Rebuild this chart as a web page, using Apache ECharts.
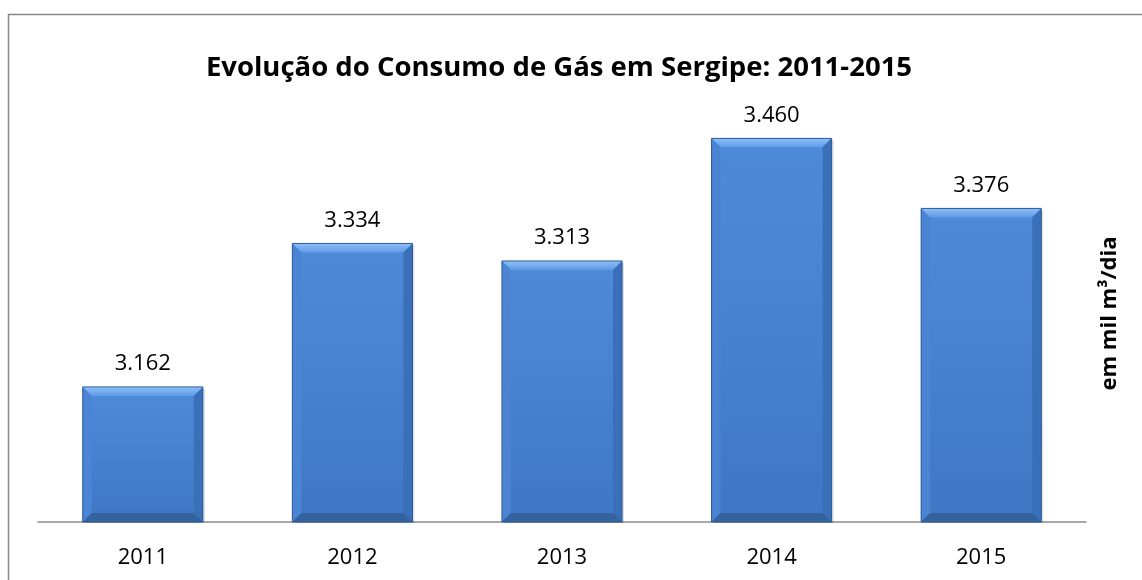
<!DOCTYPE html>
<html>
<head>
<meta charset="utf-8">
<script src="https://cdn.jsdelivr.net/npm/echarts@6/dist/echarts.min.js"></script>
<style>
  html, body { margin: 0; padding: 0; background: #fff; }
  #chart { width: 1142px; height: 580px; }
</style>
</head>
<body>
<div id="chart"></div>
<script>
// dados do gráfico
const anos = ['2011', '2012', '2013', '2014', '2015']
const consumo = [3.162, 3.334, 3.313, 3.460, 3.376]
const eixoMin = 3.0
const eixoMax = 3.5

const fonte = 'Open Sans'
const chart = echarts.init(document.getElementById('chart'))

// barra com efeito de bisel (como no Excel)
function renderBar (params, api) {
  const i = api.value(0)
  const v = api.value(1)
  const top = api.coord([i, v])
  const base = api.coord([i, eixoMin])
  const w = api.size([1, 0])[0] * 0.573
  const x0 = top[0] - w / 2
  const x1 = top[0] + w / 2
  const y0 = top[1]
  const y1 = base[1]
  const b = 9
  return {
    type: 'group',
    children: [
      // sombra
      { type: 'rect', shape: { x: x0 + 2, y: y0 + 2, width: w, height: y1 - y0 - 1 },
        style: { fill: 'rgba(0,0,0,0.12)' } },
      // face
      { type: 'rect', shape: { x: x0, y: y0, width: w, height: y1 - y0 },
        style: { fill: new echarts.graphic.LinearGradient(0, 0, 0, 1, [
          { offset: 0, color: '#4f8ad9' },
          { offset: 1, color: '#3f77c4' }
        ]) } },
      // bisel superior
      { type: 'polygon', shape: { points: [[x0, y0], [x1, y0], [x1 - b, y0 + b], [x0 + b, y0 + b]] },
        style: { fill: new echarts.graphic.LinearGradient(0, 0, 0, 1, [
          { offset: 0, color: '#8ec0f7' },
          { offset: 1, color: '#5f9ae6' }
        ]) } },
      // bisel esquerdo
      { type: 'polygon', shape: { points: [[x0, y0], [x0 + b, y0 + b], [x0 + b, y1 - b], [x0, y1]] },
        style: { fill: '#4a84d3' } },
      // bisel direito
      { type: 'polygon', shape: { points: [[x1, y0], [x1, y1], [x1 - b, y1 - b], [x1 - b, y0 + b]] },
        style: { fill: '#3a6fb9' } },
      // bisel inferior
      { type: 'polygon', shape: { points: [[x0, y1], [x0 + b, y1 - b], [x1 - b, y1 - b], [x1, y1]] },
        style: { fill: '#33629f' } },
      // contorno
      { type: 'rect', shape: { x: x0, y: y0, width: w, height: y1 - y0 },
        style: { fill: 'none', stroke: '#2f5c98', lineWidth: 1 } },
      // rótulo
      { type: 'text', x: top[0], y: y0 - 12,
        style: { text: v.toFixed(3), fill: '#000', fontSize: 22, fontFamily: fonte,
          align: 'center', verticalAlign: 'bottom' } }
    ]
  }
}

const option = {
  animation: false,
  textStyle: { fontFamily: fonte },
  title: {
    text: 'Evolução do Consumo de Gás em Sergipe: 2011-2015',
    left: 554,
    textAlign: 'center',
    top: 49,
    textStyle: { fontSize: 27.5, fontWeight: 'bold', color: '#000', fontFamily: fonte }
  },
  graphic: [
    { type: 'rect', shape: { x: 8.5, y: 14.5, width: 1140, height: 580 },
      style: { fill: 'none', stroke: '#888', lineWidth: 1.5 }, z: -1 }
  ],
  grid: { left: 38, right: 56, top: 105, bottom: 58 },
  xAxis: {
    type: 'category',
    data: anos,
    axisLine: { lineStyle: { color: '#8c8c8c', width: 1.5 } },
    axisTick: { length: 8, lineStyle: { color: '#8c8c8c', width: 1.5 } },
    axisLabel: { fontSize: 22, color: '#000', margin: 25, fontFamily: fonte }
  },
  yAxis: {
    type: 'value',
    position: 'right',
    min: eixoMin,
    max: eixoMax,
    name: 'em mil m³/dia',
    nameLocation: 'middle',
    nameRotate: 90,
    nameGap: 13,
    nameTextStyle: { fontSize: 22, fontWeight: 'bold', color: '#000', fontFamily: fonte },
    axisLine: { show: false },
    axisTick: { show: false },
    axisLabel: { show: false },
    splitLine: { show: false }
  },
  series: [
    {
      type: 'custom',
      renderItem: renderBar,
      encode: { x: 0, y: 1 },
      data: consumo.map((v, i) => [i, v])
    }
  ]
}

chart.setOption(option)
</script>
</body>
</html>
